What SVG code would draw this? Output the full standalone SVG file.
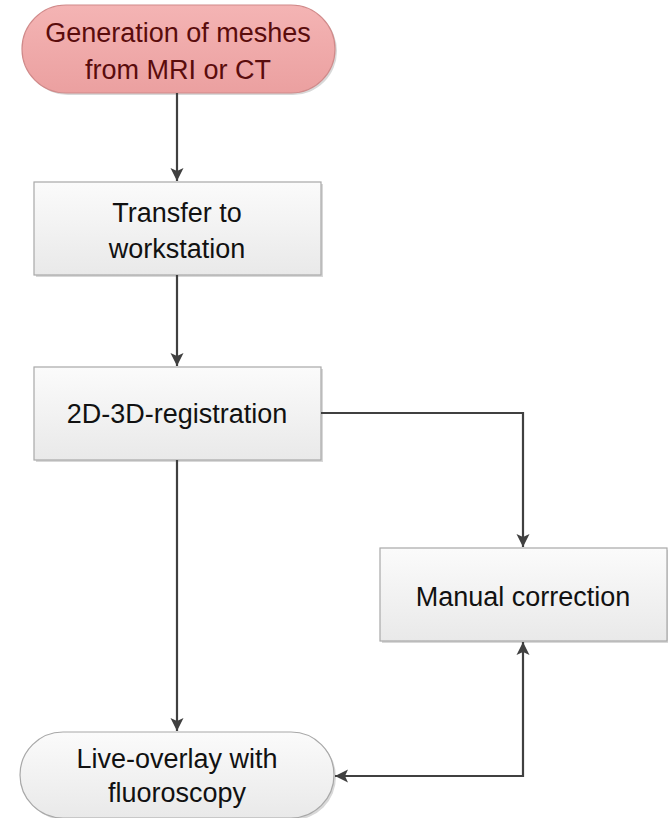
<svg xmlns="http://www.w3.org/2000/svg" width="668" height="818" viewBox="0 0 668 818">
<style>
text { font-family: "Liberation Sans", Arial, sans-serif; font-size: 27px; text-anchor: middle; fill: #111; }
.box { fill: url(#gGrey); stroke: #a8a8a8; stroke-width: 1.2; }
.shadow { fill: #d8d8d8; }
.conn { fill: none; stroke: #404040; stroke-width: 2.2; }
</style>
<defs>
<linearGradient id="gGrey" x1="0" y1="0" x2="0" y2="1">
<stop offset="0" stop-color="#fbfbfb"/>
<stop offset="1" stop-color="#e9e9e9"/>
</linearGradient>
<linearGradient id="gPink" x1="0" y1="0" x2="0" y2="1">
<stop offset="0" stop-color="#f4b4b4"/>
<stop offset="1" stop-color="#eba0a0"/>
</linearGradient>
<marker id="arr" markerWidth="14" markerHeight="14" refX="13" refY="7" orient="auto-start-reverse" markerUnits="userSpaceOnUse">
<path d="M0,0.5 L13,7 L0,13.5 L3,7 Z" fill="#404040"/>
</marker>
</defs>
<g id="n1">
<rect x="24" y="7" width="313" height="88" rx="44" class="shadow"/>
<rect x="22" y="5" width="313" height="88" rx="44" fill="url(#gPink)" stroke="#d08a8a" stroke-width="1.2"/>
<text x="178" y="42" style="fill:#5a0c0c">Generation of meshes</text>
<text x="178" y="79" style="fill:#5a0c0c">from MRI or CT</text>
</g>
<g id="n2">
<rect x="36" y="184" width="287" height="93" class="shadow"/>
<rect x="34" y="182" width="287" height="93" class="box"/>
<text x="177" y="222">Transfer to</text>
<text x="177" y="258">workstation</text>
</g>
<g id="n3">
<rect x="36" y="369" width="287" height="93" class="shadow"/>
<rect x="34" y="367" width="287" height="93" class="box"/>
<text x="177" y="423">2D-3D-registration</text>
</g>
<g id="n4">
<rect x="382" y="550" width="287" height="93" class="shadow"/>
<rect x="380" y="548" width="287" height="93" class="box"/>
<text x="523" y="606">Manual correction</text>
</g>
<g id="n5">
<rect x="22" y="734" width="314" height="86" rx="43" class="shadow"/>
<rect x="20" y="732" width="314" height="86" rx="43" class="box"/>
<text x="177" y="768">Live-overlay with</text>
<text x="177" y="802">fluoroscopy</text>
</g>
<g id="connectors">
<path class="conn" d="M177,93 V181" marker-end="url(#arr)"/>
<path class="conn" d="M177,275 V366" marker-end="url(#arr)"/>
<path class="conn" d="M321,413 H523 V547" marker-end="url(#arr)"/>
<path class="conn" d="M177,460 V731" marker-end="url(#arr)"/>
<path class="conn" d="M523,642 V776 H335" marker-start="url(#arr)" marker-end="url(#arr)"/>
</g>
</svg>
